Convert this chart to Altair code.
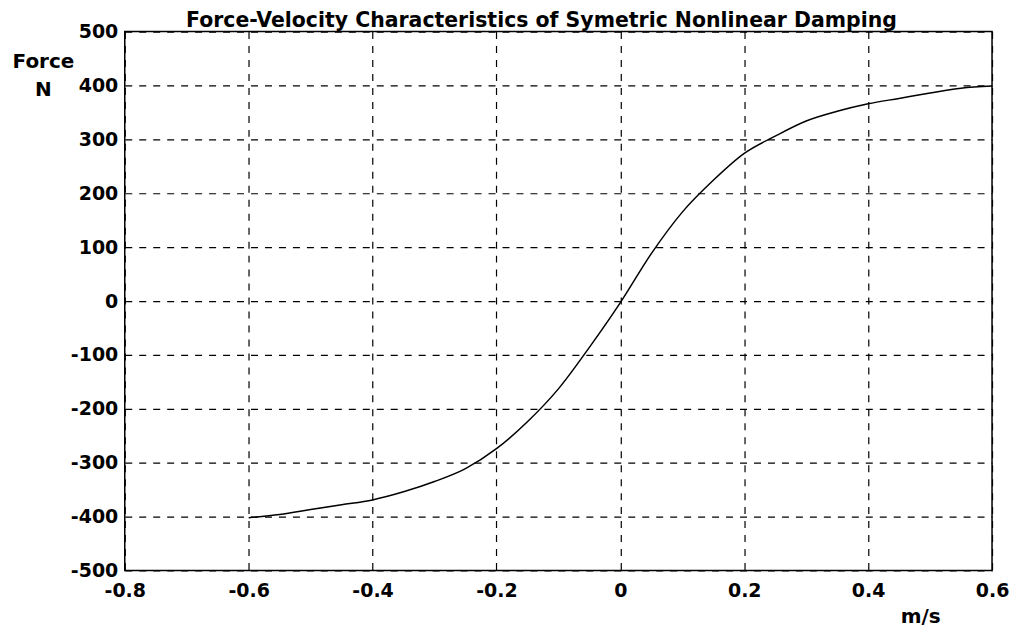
import altair as alt
import pandas as pd

velocity = [-0.60, -0.55, -0.50, -0.45, -0.40, -0.35, -0.30, -0.25, -0.20, -0.15,
            -0.10, -0.05, 0.00, 0.05, 0.10, 0.15, 0.20, 0.25, 0.30, 0.35,
            0.40, 0.45, 0.50, 0.55, 0.60]
force = [-402, -396, -387, -378, -369, -354, -335, -311, -274, -224,
         -163, -86, -3, 88, 165, 224, 274, 306, 334, 352,
         366, 376, 386, 395, 399]

x_ticks = [-0.8, -0.6, -0.4, -0.2, 0, 0.2, 0.4, 0.6]
y_ticks = [-500, -400, -300, -200, -100, 0, 100, 200, 300, 400, 500]

df = pd.DataFrame({"v": velocity, "f": force})

FONT = "DejaVu Sans"
HYPHEN = "replace(datum.label, '\u2212', '-')"

chart = alt.Chart(df).mark_line(color="black", strokeWidth=1.5, interpolate="monotone").encode(
    x=alt.X("v:Q",
            scale=alt.Scale(domain=[-0.8, 0.6], nice=False, zero=False),
            axis=alt.Axis(values=x_ticks, format="g", title="m/s", labelExpr=HYPHEN,
                          titleX=797, titleY=52, titleAlign="center",
                          titleBaseline="alphabetic",
                          labelPadding=11, labelFlush=False)),
    y=alt.Y("f:Q",
            scale=alt.Scale(domain=[-500, 500], nice=False),
            axis=alt.Axis(values=y_ticks, title=["Force", "N"], titleAngle=0, labelExpr=HYPHEN,
                          titleX=-82, titleY=36, titleAlign="center",
                          titleBaseline="alphabetic", titleLineHeight=28,
                          labelPadding=7, labelFlush=False)),
).properties(
    width=869,
    height=540,
    background="white",
    autosize=alt.AutoSizeParams(type="none"),
    padding={"left": 117, "top": 23, "right": 17, "bottom": 58},
    title=alt.Title("Force-Velocity Characteristics of Symetric Nonlinear Damping",
                    anchor="middle", dx=-17, offset=-9, fontSize=20.5,
                    font=FONT, fontWeight="bold", color="black"),
).configure_view(
    stroke="black", strokeWidth=1.5
).configure_axis(
    domain=False, ticks=False,
    grid=True, gridColor="black", gridDash=[7, 7], gridWidth=1.2, gridOpacity=1,
    labelFont=FONT, labelFontSize=19, labelFontWeight="bold", labelColor="black",
    titleFont=FONT, titleFontSize=20, titleFontWeight="bold", titleColor="black",
)

chart.save("out.html", embed_options={"renderer": "svg", "actions": False})
